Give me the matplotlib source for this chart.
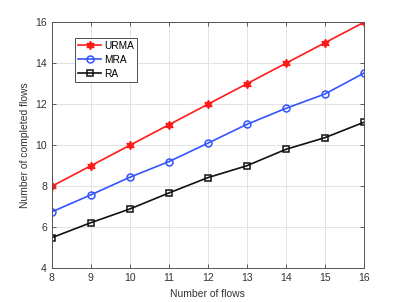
import numpy as np
import matplotlib.pyplot as plt

plt.rcParams['font.family'] = 'sans-serif'
plt.rcParams['font.sans-serif'] = ['Liberation Sans', 'DejaVu Sans']
plt.rcParams['font.size'] = 7.5

flows = [8, 9, 10, 11, 12, 13, 14, 15, 16]
urma = [8, 9, 10, 11, 12, 13, 14, 15, 16]
mra = [6.75, 7.58, 8.44, 9.2, 10.1, 11.02, 11.8, 12.5, 13.52]
ra = [5.49, 6.22, 6.89, 7.67, 8.42, 9.0, 9.8, 10.37, 11.12]
labels = ['URMA', 'MRA', 'RA']

fig = plt.figure(figsize=(4.02, 3.02), dpi=100)
ax = fig.add_axes([0.129, 0.112, 0.776, 0.814])

ax.plot(flows, urma, '-', color='#ff1a1a', marker=(6, 1, 0), markersize=6,
        markerfacecolor='#ff1a1a', lw=1.2, label=labels[0])
ax.plot(flows, mra, '-', color='#3355ff', marker='o', markersize=5,
        markerfacecolor='none', mew=1.1, lw=1.2, label=labels[1])
ax.plot(flows, ra, '-', color='#111111', marker='s', markersize=4.5,
        markerfacecolor='none', mew=1.1, lw=1.2, label=labels[2])

ax.set_xlim(8, 16)
ax.set_ylim(4, 16)
ax.set_xticks(flows)
ax.set_yticks(np.arange(4, 17, 2))
ax.grid(True, color='#e3e3e3', lw=0.7)
ax.set_axisbelow(True)
ax.tick_params(direction='in', top=True, right=True, colors='#444444',
               labelcolor='#333333', length=3, width=0.6)
for s in ax.spines.values():
    s.set_color('#555555')
    s.set_linewidth(0.7)

ax.set_xlabel('Number of flows', color='#333333')
ax.set_ylabel('Number of completed flows', color='#333333')

leg = ax.legend(loc='upper left', bbox_to_anchor=(0.074, 0.937), fancybox=False,
                edgecolor='#333333', framealpha=1, handlelength=2.3,
                fontsize=7.3, borderpad=0.3, labelspacing=0.4,
                handletextpad=0.3, borderaxespad=0)
leg.get_frame().set_linewidth(0.6)

plt.savefig('out.png', dpi=100)
